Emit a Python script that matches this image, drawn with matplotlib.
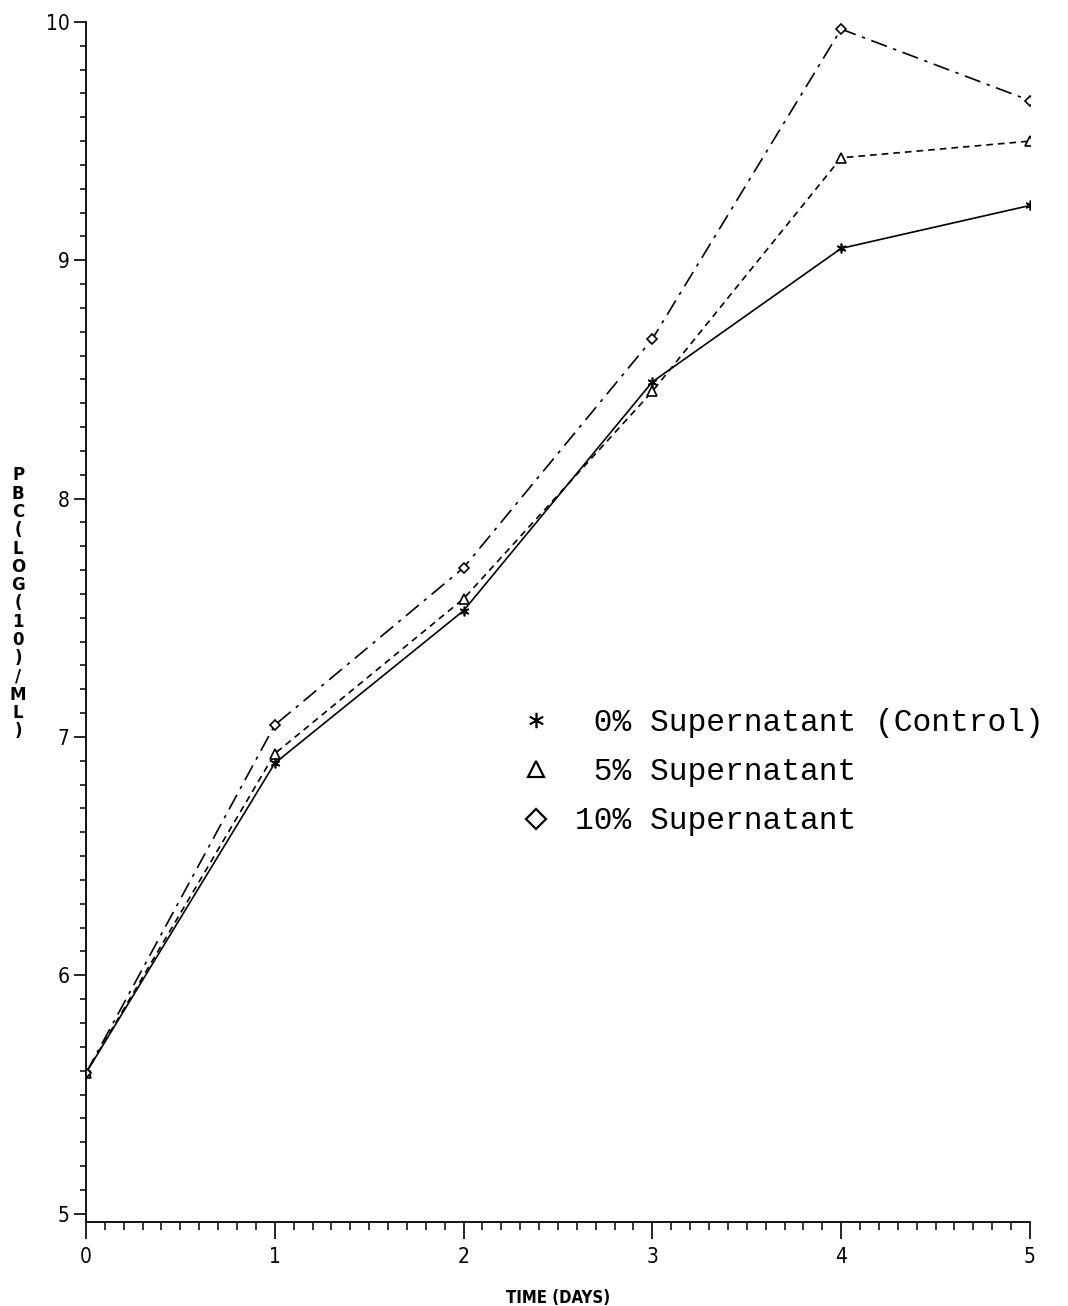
import matplotlib
matplotlib.use("Agg")
import matplotlib.pyplot as plt
from matplotlib.lines import Line2D
from matplotlib.ticker import MultipleLocator

# Growth curves, log10 counts per ml
days = [0, 1, 2, 3, 4, 5]
control_0 = [5.59, 6.89, 7.53, 8.49, 9.05, 9.23]
super_5 = [5.59, 6.93, 7.58, 8.45, 9.43, 9.50]
super_10 = [5.59, 7.05, 7.71, 8.67, 9.97, 9.67]

labels = [" 0% Supernatant (Control)", " 5% Supernatant", "10% Supernatant"]
y_label = "PBC(LOG(10)/ML)"

fig = plt.figure(figsize=(10.68, 13.06), dpi=100)
ax = fig.add_axes([0.0805, 0.0643, 0.8839, 0.9189])

ax.plot(days, control_0, color="black", lw=1.2, linestyle="-",
        marker=(6, 2, 0), ms=7, mew=1.2)
ax.plot(days, super_5, color="black", lw=1.2, linestyle=(0, (4, 3)),
        marker="^", ms=7, mfc="white", mew=1.2)
ax.plot(days, super_10, color="black", lw=1.2, linestyle=(0, (10, 4, 2, 4)),
        marker="D", ms=5, mfc="white", mew=1.2)

ax.set_xlim(0, 5)
ax.set_ylim(4.965, 10)
ax.spines["top"].set_visible(False)
ax.spines["right"].set_visible(False)
ax.spines["left"].set_linewidth(1.3)
ax.spines["bottom"].set_linewidth(1.3)

ax.xaxis.set_major_locator(MultipleLocator(1))
ax.xaxis.set_minor_locator(MultipleLocator(0.1))
ax.yaxis.set_minor_locator(MultipleLocator(0.1))
ax.set_yticks([5, 6, 7, 8, 9, 10])

tick_font = dict(family="DejaVu Sans", stretch="condensed", size=15)
ax.tick_params(axis="x", which="major", direction="out", length=12, width=1.2, pad=6)
ax.tick_params(axis="x", which="minor", direction="out", length=6, width=1.1)
ax.tick_params(axis="y", which="major", direction="out", length=9, width=1.2, pad=3)
ax.tick_params(axis="y", which="minor", direction="out", length=4, width=1.1)
for lab in ax.get_xticklabels() + ax.get_yticklabels():
    lab.set_fontproperties(tick_font)

ax.set_xlabel("TIME (DAYS)", fontsize=12, fontweight="bold", labelpad=16,
              family="DejaVu Sans", stretch="condensed")

# stacked vertical axis title
fig.text(0.017, 0.538, "\n".join(y_label), ha="center", va="center",
         fontsize=12, fontweight="bold", linespacing=1.02,
         family="DejaVu Sans")

handles = [
    Line2D([], [], color="black", linestyle="none", marker=(6, 2, 0), ms=11, mew=1.2),
    Line2D([], [], color="black", linestyle="none", marker="^", ms=12, mfc="white", mew=1.6),
    Line2D([], [], color="black", linestyle="none", marker="D", ms=10, mfc="white", mew=1.6),
]
ax.legend(handles, labels, loc="upper left", bbox_to_anchor=(0.43, 0.452),
          frameon=False, handlelength=1.0, handletextpad=0.75, labelspacing=0.62,
          prop=dict(family="Liberation Mono", size=22.5))

fig.savefig("out.png", dpi=100, facecolor="white")
